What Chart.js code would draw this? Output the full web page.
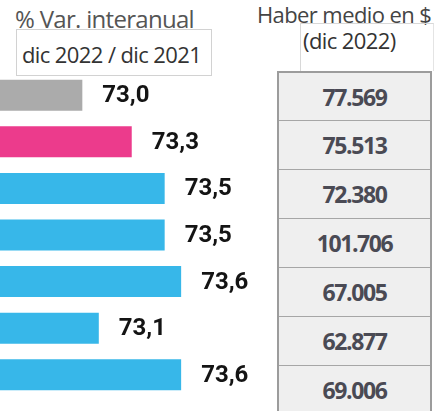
<!DOCTYPE html>
<html lang="es">
<head>
<meta charset="utf-8">
<script src="https://cdn.jsdelivr.net/npm/chart.js@4"></script>
<style>
  html, body { margin: 0; padding: 0; background: #fff; }
  body { position: relative; width: 439px; height: 411px; overflow: hidden; font-family: "Open Sans", sans-serif; }
  .abs { position: absolute; white-space: nowrap; }
  #tit-var  { left: 15px; top: 5px; font-size: 24px; line-height: 28px; color: #555; letter-spacing: -0.7px; }
  #box-var  { left: 16px; top: 29px; width: 196px; height: 47px; border: 1px solid #d2d2d2; box-sizing: border-box; }
  #sub-var  { left: 22px; top: 40px; font-size: 22px; line-height: 28px; color: #333; letter-spacing: -0.6px; }
  #tit-hab  { left: 257px; top: 1px; font-size: 22px; line-height: 26px; color: #444; letter-spacing: -0.6px; }
  #box-hab  { left: 300px; top: 23px; width: 134px; height: 48px; border-left: 1px solid #d8d8d8; border-top: 1px solid #d8d8d8; border-right: 1px solid #e4e4e4; box-sizing: border-box; }
  #sub-hab  { left: 303px; top: 26px; font-size: 22px; line-height: 28px; color: #333; letter-spacing: -0.6px; }
  #tabla    { left: 277px; top: 71px; width: 155px; border: 2px solid #9c9c9c; border-bottom: none; background: #efefef; box-sizing: border-box; }
  #tabla div { height: 48.9px; line-height: 48px; text-align: center; font-weight: 700; font-size: 23px; color: #4a4a54; letter-spacing: -1.4px; border-top: 1.5px solid #a6a6a6; box-sizing: border-box; }
  #tabla div:first-child { border-top: none; height: 47.4px; }
  #grafico  { position: absolute; left: 0; top: 72px; }
</style>
</head>
<body>
  <div class="abs" id="tit-var">% Var. interanual</div>
  <div class="abs" id="box-var"></div>
  <div class="abs" id="sub-var">dic 2022 / dic 2021</div>
  <div class="abs" id="tit-hab">Haber medio en $</div>
  <div class="abs" id="box-hab"></div>
  <div class="abs" id="sub-hab">(dic 2022)</div>
  <div class="abs" id="tabla"></div>
  <canvas id="grafico" width="275" height="326"></canvas>

<script>
// filas del gráfico (de arriba hacia abajo)
const categorias    = ["Fila 1", "Fila 2", "Fila 3", "Fila 4", "Fila 5", "Fila 6", "Fila 7"];
const varInteranual = [73.0, 73.3, 73.5, 73.5, 73.6, 73.1, 73.6];
const haberMedio    = [77569, 75513, 72380, 101706, 67005, 62877, 69006];
const coloresBarra  = ["#ababab", "#ec3b8c", "#37b7e9", "#37b7e9", "#37b7e9", "#37b7e9", "#37b7e9"];

// separador de miles con punto
const fmtMiles = n => String(n).replace(/\B(?=(\d{3})+(?!\d))/g, ".");
const fmtDecimal = v => v.toFixed(1).replace(".", ",");

// ── tabla de haberes ──────────────────────────────────────
document.getElementById("tabla").innerHTML =
  haberMedio.map(v => `<div>${fmtMiles(v)}</div>`).join("");

// ── etiquetas al final de cada barra ──────────────────────
const etiquetasBarra = {
  id: "etiquetasBarra",
  afterDatasetsDraw(chart) {
    const { ctx } = chart;
    const meta = chart.getDatasetMeta(0);
    ctx.save();
    ctx.font = "700 24px Roboto, sans-serif";
    ctx.fillStyle = "#141414";
    ctx.textAlign = "left";
    ctx.textBaseline = "middle";
    meta.data.forEach((bar, i) => {
      ctx.fillText(fmtDecimal(varInteranual[i]), bar.x + 20, bar.y + 1);
    });
    ctx.restore();
  },
};

new Chart(document.getElementById("grafico"), {
  type: "bar",
  data: {
    labels: categorias,
    datasets: [{
      data: varInteranual,
      backgroundColor: coloresBarra,
      borderWidth: 0,
      categoryPercentage: 1,
      barPercentage: 0.665,
    }],
  },
  options: {
    indexAxis: "y",
    responsive: false,
    animation: false,
    devicePixelRatio: 1,
    layout: { padding: 0 },
    plugins: {
      legend: { display: false },
      tooltip: { enabled: false },
    },
    scales: {
      x: { display: false, min: 72.5, max: 74.17 },
      y: { display: false },
    },
  },
  plugins: [etiquetasBarra],
});
</script>
</body>
</html>
